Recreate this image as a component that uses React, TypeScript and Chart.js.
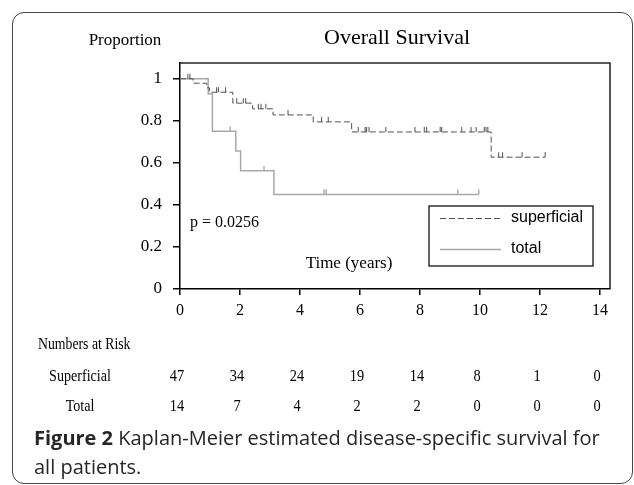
import React, { useEffect, useRef } from "react";
import { Chart, registerables } from "chart.js";

Chart.register(...registerables);

// ---------- data ----------
const xTicks = [0, 2, 4, 6, 8, 10, 12, 14];
const yTicks = [0, 0.2, 0.4, 0.6, 0.8, 1];
const yTickLabels = ["0", "0.2", "0.4", "0.6", "0.8", "1"];

const superficialTimes = [0, 0.44, 0.89, 0.98, 1.76, 2.42, 3.1, 4.44, 5.72, 10.37, 12.17];
const superficialSurv = [1, 0.979, 0.957, 0.936, 0.884, 0.857, 0.828, 0.795, 0.747, 0.627, 0.627];
const superficialCensored = [
  0.26, 0.33, 1.22, 1.28, 1.52, 1.89, 2.11, 2.19, 2.61, 2.7, 2.86, 3.6, 4.72, 4.94,
  5.94, 6.17, 6.22, 6.3, 6.86, 7.83, 8.14, 8.22, 8.67, 8.72, 9.39, 9.7, 9.87, 10.14,
  10.2, 10.26, 10.62, 10.75, 11.4, 12.17,
];

const totalTimes = [0, 0.94, 1.08, 1.86, 2.02, 3.13, 9.96];
const totalSurv = [1, 0.929, 0.75, 0.657, 0.562, 0.45, 0.45];
const totalCensored = [1.67, 2.8, 4.8, 4.87, 9.26, 9.96];

const riskTimes = [0, 2, 4, 6, 8, 10, 12, 14];
const riskSuperficial = [47, 34, 24, 19, 14, 8, 1, 0];
const riskTotal = [14, 7, 4, 2, 2, 0, 0, 0];

const seriesNames = ["superficial", "total"];
const riskRowNames = ["Superficial", "Total"];
const pValueText = "p = 0.0256";
const titleText = "Overall Survival";
const yTitleText = "Proportion";
const xTitleText = "Time (years)";
const riskTitle = "Numbers at Risk";

// ---------- helpers ----------
const survAt = (times: number[], surv: number[], t: number) => {
  let v = surv[0];
  for (let i = 0; i < times.length; i++) if (times[i] <= t) v = surv[i];
  return v;
};
const curve = (times: number[], surv: number[]) => times.map((t, i) => ({ x: t, y: surv[i] }));
const censorPts = (times: number[], surv: number[], c: number[]) =>
  c.map((t) => ({ x: t, y: survAt(times, surv, t) }));

const SUP_COLOR = "#505050";
const TOT_COLOR = "#a8a8a8";
const SERIF = "'Liberation Serif', 'Times New Roman', serif";
const SANS = "'Liberation Sans', Arial, sans-serif";

const condensedText = (ctx: any, text: string, x: number, y: number, sx: number) => {
  ctx.save();
  ctx.translate(x, y);
  ctx.scale(sx, 1);
  ctx.fillText(text, 0, 0);
  ctx.restore();
};

const decorPlugin = {
  id: "decor",
  afterDraw(chart: any) {
    const { ctx, chartArea, scales } = chart;
    const xs = scales.x;
    ctx.save();
    // top & right frame
    ctx.strokeStyle = "#222";
    ctx.lineWidth = 1.5;
    ctx.beginPath();
    ctx.moveTo(chartArea.left, chartArea.top);
    ctx.lineTo(chartArea.right, chartArea.top);
    ctx.lineTo(chartArea.right, chartArea.bottom);
    ctx.stroke();

    ctx.fillStyle = "#000";
    ctx.textBaseline = "middle";
    // title
    ctx.font = `22px ${SERIF}`;
    ctx.textAlign = "center";
    ctx.fillText(titleText, 397, 38);
    // y title
    ctx.font = `17px ${SERIF}`;
    ctx.fillText(yTitleText, 125, 41);
    // p value
    ctx.font = `16px ${SERIF}`;
    ctx.textAlign = "left";
    ctx.fillText(pValueText, 190, 223);
    // x title
    ctx.font = `17px ${SERIF}`;
    ctx.textAlign = "center";
    ctx.fillText(xTitleText, 349, 264);

    // legend box
    const lx = 429, ly = 206, lw = 164, lh = 60;
    ctx.strokeStyle = "#111";
    ctx.lineWidth = 1.3;
    ctx.strokeRect(lx, ly, lw, lh);
    ctx.lineWidth = 1;
    ctx.strokeStyle = SUP_COLOR;
    ctx.setLineDash([6, 3]);
    ctx.beginPath();
    ctx.moveTo(440, 218.5);
    ctx.lineTo(501, 218.5);
    ctx.stroke();
    ctx.setLineDash([]);
    ctx.strokeStyle = TOT_COLOR;
    ctx.lineWidth = 1.5;
    ctx.beginPath();
    ctx.moveTo(440, 249.5);
    ctx.lineTo(501, 249.5);
    ctx.stroke();
    ctx.fillStyle = "#000";
    ctx.font = `16px ${SANS}`;
    ctx.textAlign = "left";
    ctx.fillText(seriesNames[0], 511, 218);
    ctx.fillText(seriesNames[1], 511, 249);

    // numbers at risk
    ctx.font = `16px ${SERIF}`;
    ctx.textAlign = "left";
    condensedText(ctx, riskTitle, 38, 345, 0.86);
    ctx.textAlign = "center";
    condensedText(ctx, riskRowNames[0], 80, 377, 0.88);
    condensedText(ctx, riskRowNames[1], 80, 407, 0.88);
    riskTimes.forEach((t, i) => {
      const px = xs.getPixelForValue(t) - 3;
      condensedText(ctx, String(riskSuperficial[i]), px, 377, 0.9);
      condensedText(ctx, String(riskTotal[i]), px, 407, 0.9);
    });
    ctx.restore();
  },
};

export default function App() {
  const ref = useRef<HTMLCanvasElement | null>(null);
  useEffect(() => {
    if (!ref.current) return;
    const chart = new Chart(ref.current, {
      type: "line",
      data: {
        datasets: [
          {
            label: seriesNames[0],
            data: curve(superficialTimes, superficialSurv),
            stepped: "before",
            borderColor: SUP_COLOR,
            borderWidth: 1,
            borderDash: [6, 3],
            pointRadius: 0,
            fill: false,
          },
          {
            label: seriesNames[0] + " censored",
            data: censorPts(superficialTimes, superficialSurv, superficialCensored),
            showLine: false,
            pointStyle: "dash",
            rotation: -90,
            pointRadius: 5,
            borderColor: SUP_COLOR,
            pointBorderWidth: 1,
          },
          {
            label: seriesNames[1],
            data: curve(totalTimes, totalSurv),
            stepped: "before",
            borderColor: TOT_COLOR,
            borderWidth: 1.5,
            pointRadius: 0,
            fill: false,
          },
          {
            label: seriesNames[1] + " censored",
            data: censorPts(totalTimes, totalSurv, totalCensored),
            showLine: false,
            pointStyle: "dash",
            rotation: -90,
            pointRadius: 5,
            borderColor: "#888",
            pointBorderWidth: 1,
          },
        ],
      },
      options: {
        responsive: false,
        animation: false,
        layout: { padding: { top: 63, right: 24, left: 0, bottom: 0 } },
        plugins: { legend: { display: false }, tooltip: { enabled: false }, title: { display: false } },
        scales: {
          x: {
            type: "linear",
            min: 0,
            max: 14.33,
            afterBuildTicks: (s: any) => {
              s.ticks = xTicks.map((v) => ({ value: v }));
            },
            afterFit: (s: any) => {
              s.height = 196;
            },
            grid: { display: true, drawOnChartArea: false, drawTicks: true, tickLength: 6, color: "#000", lineWidth: 1.5 },
            border: { display: true, color: "#000", width: 1.5 },
            ticks: { color: "#000", font: { family: SERIF, size: 16 }, padding: 6, maxRotation: 0 },
          },
          y: {
            type: "linear",
            min: 0,
            max: 1.075,
            afterBuildTicks: (s: any) => {
              s.ticks = yTicks.map((v) => ({ value: v }));
            },
            afterFit: (s: any) => {
              s.width = 180;
            },
            grid: { display: true, drawOnChartArea: false, drawTicks: true, tickLength: 7, color: "#000", lineWidth: 1.5 },
            border: { display: true, color: "#000", width: 1.5 },
            ticks: {
              color: "#000",
              font: { family: SERIF, size: 17 },
              padding: 11,
              callback: (v: any) => yTickLabels[yTicks.findIndex((t) => Math.abs(t - v) < 1e-6)] ?? "",
            },
          },
        },
      },
      plugins: [decorPlugin],
    } as any);
    return () => chart.destroy();
  }, []);

  return (
    <div style={{ position: "fixed", left: 0, top: 0, width: 634, height: 485, background: "#fff", overflow: "hidden" }}>
      <div
        style={{
          position: "absolute",
          left: 12,
          top: 12,
          width: 621,
          height: 472,
          border: "1.5px solid #444",
          borderRadius: 12,
          boxSizing: "border-box",
        }}
      />
      <canvas ref={ref} width={634} height={485} style={{ position: "absolute", left: 0, top: 0 }} />
      <div
        style={{
          position: "absolute",
          left: 34,
          top: 423,
          fontFamily: "'Open Sans', sans-serif",
          fontSize: 20,
          lineHeight: "29px",
          color: "#262626",
          whiteSpace: "nowrap",
        }}
      >
        <b>Figure 2</b> Kaplan-Meier estimated disease-specific survival for
        <br />
        all patients.
      </div>
    </div>
  );
}
